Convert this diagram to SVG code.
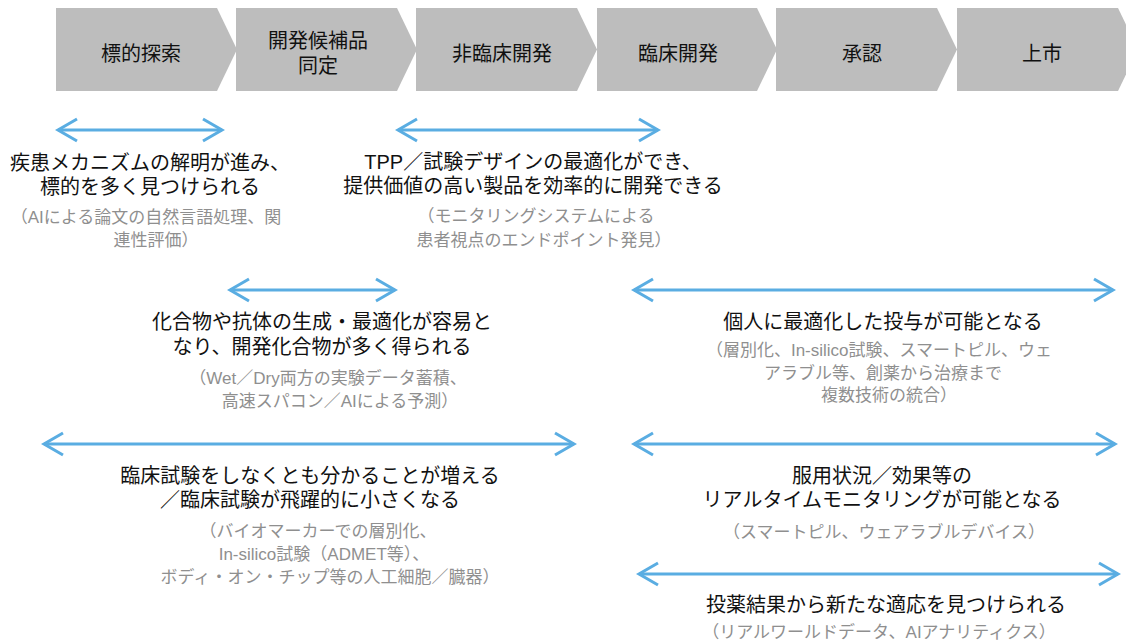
<svg xmlns="http://www.w3.org/2000/svg" width="1126" height="641" viewBox="0 0 1126 641">
<style>
.chev{fill:#bdbdbd}
.ct{font-family:'Liberation Sans','Noto Sans CJK JP',sans-serif;font-size:20px;fill:#111;text-anchor:middle}
.bt{font-family:'Liberation Sans','Noto Sans CJK JP',sans-serif;font-size:20px;fill:#111;text-anchor:middle}
.gt{font-family:'Liberation Sans','Noto Sans CJK JP',sans-serif;font-size:17px;fill:#8f8f8f;text-anchor:middle}
.arr{stroke:#5aade2;stroke-width:3;fill:none;marker-start:url(#ah);marker-end:url(#ah)}
</style>
<defs>
<marker id="ah" markerUnits="userSpaceOnUse" markerWidth="30" markerHeight="30" refX="0" refY="0" orient="auto-start-reverse" overflow="visible">
<path d="M-19,-11 L0,0 L-19,11" fill="none" stroke="#5aade2" stroke-width="3"/>
</marker>
</defs>
<rect width="1126" height="641" fill="#fff"/>
<g id="stage1"><polygon class="chev" points="56,8 217,8 237,49.5 217,91 56,91"/><text class="ct" x="141" y="61">標的探索</text></g>
<g id="stage2"><polygon class="chev" points="236,8 397,8 417,49.5 397,91 236,91"/><text class="ct" x="318" y="48">開発候補品</text><text class="ct" x="318" y="73">同定</text></g>
<g id="stage3"><polygon class="chev" points="416,8 577,8 597,49.5 577,91 416,91"/><text class="ct" x="502" y="61">非臨床開発</text></g>
<g id="stage4"><polygon class="chev" points="597,8 757,8 777,49.5 757,91 597,91"/><text class="ct" x="678" y="61">臨床開発</text></g>
<g id="stage5"><polygon class="chev" points="776,8 937,8 957,49.5 937,91 776,91"/><text class="ct" x="862" y="61">承認</text></g>
<g id="stage6"><polygon class="chev" points="957,8 1118,8 1138,49.5 1118,91 957,91"/><text class="ct" x="1042" y="61">上市</text></g>
<g id="connectors">
<line class="arr" x1="58" y1="130" x2="222" y2="130"/>
<line class="arr" x1="398" y1="130" x2="658" y2="130"/>
<line class="arr" x1="230" y1="290" x2="395" y2="290"/>
<line class="arr" x1="634" y1="290" x2="1113" y2="290"/>
<line class="arr" x1="44" y1="444" x2="574" y2="444"/>
<line class="arr" x1="634" y1="444" x2="1115" y2="444"/>
<line class="arr" x1="639" y1="574" x2="1118" y2="574"/>
</g>
<g id="effect1">
<text class="bt" x="150" y="170">疾患メカニズムの解明が進み、</text>
<text class="bt" x="150" y="194">標的を多く見つけられる</text>
<text class="gt" x="146" y="223">（AIによる論文の自然言語処理、関</text>
<text class="gt" x="156" y="246">連性評価）</text>
</g>
<g id="effect2">
<text class="bt" x="533" y="169">TPP／試験デザインの最適化ができ、</text>
<text class="bt" x="533" y="193">提供価値の高い製品を効率的に開発できる</text>
<text class="gt" x="536" y="222">（モニタリングシステムによる</text>
<text class="gt" x="544" y="246">患者視点のエンドポイント発見）</text>
</g>
<g id="effect3">
<text class="bt" x="322" y="329">化合物や抗体の生成・最適化が容易と</text>
<text class="bt" x="322" y="354">なり、開発化合物が多く得られる</text>
<text class="gt" x="328" y="384">（Wet／Dry両方の実験データ蓄積、</text>
<text class="gt" x="340" y="407">高速スパコン／AIによる予測）</text>
</g>
<g id="effect4">
<text class="bt" x="883" y="329">個人に最適化した投与が可能となる</text>
<text class="gt" x="879" y="356">（層別化、In-silico試験、スマートピル、ウェ</text>
<text class="gt" x="883" y="379">アラブル等、創薬から治療まで</text>
<text class="gt" x="889" y="401">複数技術の統合）</text>
</g>
<g id="effect5">
<text class="bt" x="310" y="483">臨床試験をしなくとも分かることが増える</text>
<text class="bt" x="310" y="507">／臨床試験が飛躍的に小さくなる</text>
<text class="gt" x="318" y="537">（バイオマーカーでの層別化、</text>
<text class="gt" x="324" y="560">In-silico試験（ADMET等）、</text>
<text class="gt" x="330" y="583">ボディ・オン・チップ等の人工細胞／臓器）</text>
</g>
<g id="effect6">
<text class="bt" x="882" y="483">服用状況／効果等の</text>
<text class="bt" x="882" y="507">リアルタイムモニタリングが可能となる</text>
<text class="gt" x="884" y="538">（スマートピル、ウェアラブルデバイス）</text>
</g>
<g id="effect7">
<text class="bt" x="886" y="612">投薬結果から新たな適応を見つけられる</text>
<text class="gt" x="879" y="638">（リアルワールドデータ、AIアナリティクス）</text>
</g>
</svg>
